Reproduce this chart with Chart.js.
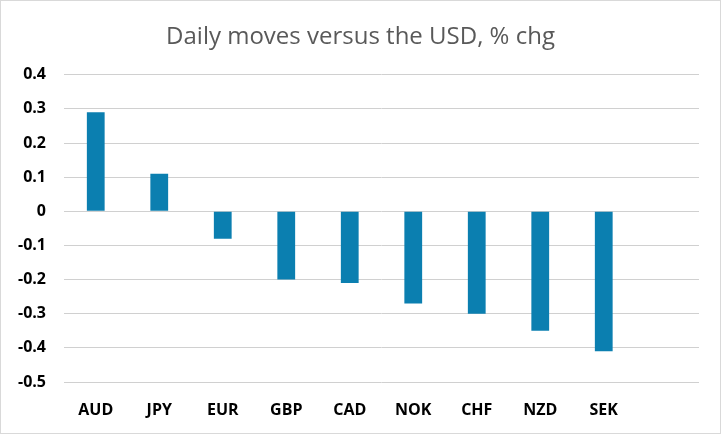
<!DOCTYPE html>
<html>
<head>
<meta charset="utf-8">
<script src="https://cdn.jsdelivr.net/npm/chart.js@4"></script>
<style>
html,body{margin:0;padding:0;background:#fff;}
#wrap{width:721px;height:434px;box-sizing:border-box;border:1px solid #d9d9d9;background:#fff;}
canvas{display:block;}
</style>
</head>
<body>
<div id="wrap"><canvas id="c" width="719" height="432"></canvas></div>
<script>
const categories = ["AUD","JPY","EUR","GBP","CAD","NOK","CHF","NZD","SEK",""];
const values = [0.29, 0.11, -0.08, -0.20, -0.21, -0.27, -0.30, -0.35, -0.41, null];
const titleText = "Daily moves versus the USD, % chg";
const yMin = -0.5, yMax = 0.4, yStep = 0.1;

new Chart(document.getElementById('c'), {
  type: 'bar',
  data: {
    labels: categories,
    datasets: [{
      data: values,
      backgroundColor: '#0b7fb0',
      borderWidth: 0,
      barPercentage: 0.28,
      categoryPercentage: 1.0
    }]
  },
  options: {
    responsive: false,
    animation: false,
    layout: { padding: 0 },
    plugins: {
      legend: { display: false },
      tooltip: { enabled: false },
      title: {
        display: true,
        text: titleText,
        color: '#595959',
        font: { family: "'Open Sans', sans-serif", size: 24, weight: 'normal' },
        padding: { top: 22, bottom: 23 }
      }
    },
    scales: {
      x: {
        grid: { display: false },
        border: { display: false },
        ticks: {
          color: '#000',
          font: { family: "'Open Sans', sans-serif", size: 16, weight: 'bold' },
          padding: 11,
          maxRotation: 0,
          autoSkip: false
        },
        afterFit: s => { s.height = 51; }
      },
      y: {
        min: yMin,
        max: yMax,
        grid: { color: '#d0d0d0', lineWidth: 1, drawTicks: false },
        border: { display: false },
        ticks: {
          stepSize: yStep,
          color: '#000',
          font: { family: "'Open Sans', sans-serif", size: 16, weight: 'bold' },
          padding: 18,
          callback: v => String(parseFloat(Number(v).toFixed(1)))
        },
        afterFit: s => { s.width = 63; }
      },
      yRight: {
        position: 'right',
        min: yMin,
        max: yMax,
        grid: { display: false, drawOnChartArea: false },
        border: { display: false },
        ticks: { display: false },
        afterFit: s => { s.width = 21; }
      }
    }
  }
});
</script>
</body>
</html>
